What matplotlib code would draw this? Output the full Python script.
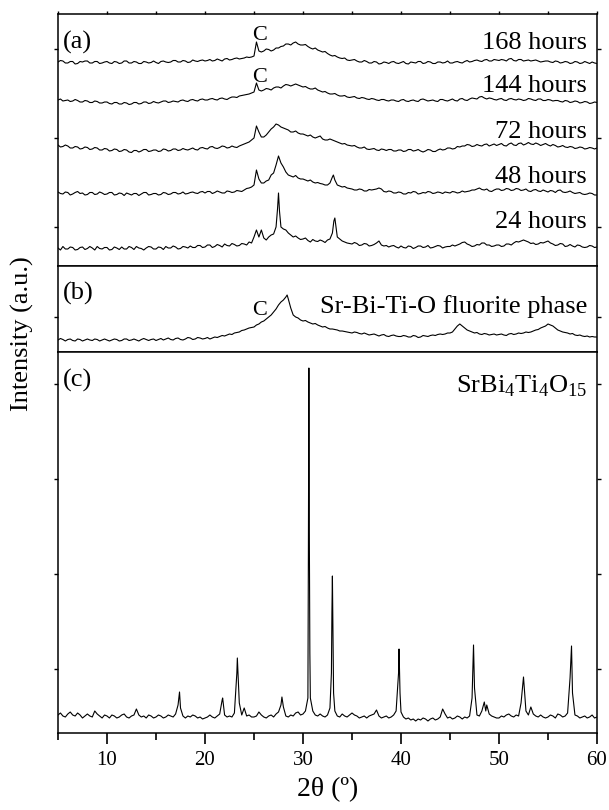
import numpy as np
import matplotlib.pyplot as plt

plt.rcParams['font.family'] = ['Liberation Serif', 'DejaVu Serif']
plt.rcParams['mathtext.fontset'] = 'custom'
plt.rcParams['mathtext.rm'] = 'Liberation Serif'

# 2theta grid every 0.25 deg, 5..60 (221 points), one row below = 5 deg
grid = np.arange(5.0, 60.001, 0.25)

# ---- panel (a): intensities above each pattern's own baseline ----
h24 = [1, -1, 2.5, 0, 0, 2, 1.5, -1, -0.5, 1.5, 2, -0.5, 0.5, 2.5, 1, -1, 2.5, 0.5, 0, 1.5,
       1.5, -1, -0.5, 2, 1, -0.5, 2, 0, 0, 2.5, 1.5, -0.5, 2.5, 1, 0.5, -1, 1, 2.5, 2, 0,
       0, 2, 1.5, -0.5, 2.5, 1, 1, 3, 2, 0, 0.5, 2.5, 2, 1, 3, 1.5, 1.5, 3.5, 3.5, 1.5,
       2, 4, 4, 1.5, 2.5, 4.5, 3.5, 2, 5, 3.5, 3, 5.5, 4.5, 3, 3.5, 5.5, 5, 4, 7, 6,
       12, 19, 12, 19, 11, 9, 12, 14, 15, 22, 56, 22, 20, 19, 16, 14, 12, 13, 11, 9.5,
       10, 11, 8.5, 7, 9.5, 8, 7.5, 9, 8, 6.5, 9, 10, 16, 31, 12, 10, 8, 7, 6, 5.5,
       5, 6.5, 5.5, 3.5, 4, 5.5, 5, 3, 3.5, 4.5, 6, 8, 4, 3, 3.5, 2, 3, 3.5, 2, 1,
       3, 1.5, 1, 3, 2.5, 0.5, 1.5, 3, 3, 1.5, 2, 3.5, 1, 1.5, 2.5, 3.5, 3, 1, 2, 2.5,
       2.5, 4, 3, 4, 5, 6.5, 7, 5, 4, 2.5, 3, 4.5, 4, 6, 6, 4, 4, 2.5, 3, 4,
       4, 2.5, 3, 5, 5, 4, 6, 7.5, 7, 8, 9, 8, 7, 5.5, 6, 4.5, 5, 6.5, 6, 7,
       8, 6, 5, 3.5, 4, 5.5, 5, 2.5, 3, 4.5, 3, 2, 4, 3.5, 2, 1.5, 2, 3.5, 3, 1.5,
       2]
h24_px = [27.4, 27.6, 33.15]
h24_py = [40, 38, 28]

h48 = [3, 1.5, 1, 3, 2.5, 0, 1, 2.5, 3.5, 1.5, 2, 0, 0.5, 2.5, 2.5, 0.5, 1, 3, 2, 0.5,
       1, 2.5, 2.5, 0, 0.5, 2, 1.5, -0.5, 2, 1, 0, 1.5, 1.5, -0.5, 1, 2.5, 2.5, 0, 0.5, 1.5,
       1.5, 0, 0.5, 2.5, 2, 0.5, 1, 2.5, 2.5, 1, 1.5, 3, 1, 1.5, 2.5, 3, 2, 1.5, 3, 3.5,
       2, 3.5, 3.5, 1.5, 2.5, 4, 3, 2, 2, 4, 3.5, 2.5, 3, 4.5, 4, 3.5, 5, 6.5, 7, 8,
       10, 25, 16, 12, 12, 14, 15, 20, 22, 30, 39, 32, 28, 23, 20, 19, 18, 19.5, 17, 16,
       16, 15, 14, 15, 13, 12, 12.5, 11.5, 11, 10, 10, 12, 18, 15, 10, 9, 8, 8.5, 7, 6.5,
       6, 5, 5, 6, 5.5, 4, 4, 5.5, 5, 5.5, 6, 7, 6, 3.5, 3, 4, 3.5, 2, 2, 3,
       2.5, 1, 1, 2.5, 2, 3.5, 3, 1, 1.5, 2.5, 2, 3.5, 3, 1.5, 2, 3, 2.5, 1.5, 3, 2.5,
       2, 3.5, 3, 2, 2.5, 4, 3, 3.5, 4, 5, 5, 6, 7, 5.5, 5, 6, 4, 3.5, 5, 6,
       6, 4.5, 5, 6.5, 6, 4.5, 5, 6.5, 6, 4.5, 5, 6, 4, 3.5, 5, 5.5, 4, 3.5, 5, 4,
       3, 4.5, 4, 2.5, 4.5, 5, 3, 2.5, 3, 4, 2.5, 1.5, 2, 2.5, 1, 0.5, 1, 2, 1.5, 0,
       0]
h48_px = [33.1]
h48_py = [20]

h72 = [7, 5, 5.5, 7, 6, 4, 4, 5.5, 5, 3, 3.5, 5, 4.5, 2.5, 3, 4.5, 4, 2, 2, 3.5,
       3, 1, 1.5, 3, 2.5, 0.5, 1, 2.5, 2, 0, -0.5, 1.5, 1.5, 0, 1, 2.5, 2.5, 0.5, 1, 2,
       2, 0.5, 1, 3, 2.5, 1, 1.5, 3, 3, 1.5, 2, 3.5, 2.5, 2, 3, 4, 2.5, 2, 4, 4.5,
       3.5, 3, 5, 5.5, 4, 3.5, 4.5, 6, 5.5, 4, 4.5, 6, 5, 4.5, 6, 7, 8, 9, 10, 12,
       14, 26, 20, 15, 15, 17, 20, 23, 25, 28, 27, 25, 24, 23, 22, 20, 20, 21, 19, 18,
       18, 17, 16, 17, 15, 14, 15, 16, 13, 12, 12, 13, 12, 11, 10, 9, 8, 8.5, 7, 6.5,
       6, 6.5, 5, 4, 4, 5, 3, 2.5, 3, 3.5, 2, 1.5, 3, 2.5, 1.5, 2.5, 2.5, 1, 1, 2,
       2, 0.5, 1, 2.5, 2.5, 1, 1.5, 2.5, 1, 0, 1, 2.5, 2, 0.5, 0.5, 2, 3, 2, 2.5, 4,
       4, 3, 3.5, 5.5, 5, 6, 6, 7.5, 7, 5.5, 6, 7.5, 6.5, 6, 7.5, 8, 6, 7, 8, 6.5,
       7.5, 8.5, 6.5, 6, 8, 9, 7, 6.5, 8.5, 9, 7, 8, 9.5, 8, 7.5, 9, 8, 6.5, 7.5, 8.5,
       7, 6, 7.5, 6.5, 5, 5.5, 6.5, 5, 4.5, 5.5, 5, 3.5, 4, 5, 4.5, 3, 3.5, 4.5, 4, 3,
       4]
h72_px = []
h72_py = []

h144 = [4, 5, 3, 3.5, 4, 2.5, 3, 4.5, 3.5, 2, 2, 3.5, 3, 1.5, 1.5, 3, 2.5, 1, 1, 2,
        2, 0.5, 0, 1.5, 1.5, 0, 0, 1.5, 1, -0.5, 0, 1.5, 1.5, 0, 0.5, 2, 2, 0.5, 1, 2.5,
        1.5, 1, 2, 3, 3, 1.5, 2, 3, 2.5, 2, 3.5, 4, 3, 2.5, 4, 4.5, 3.5, 3, 4.5, 5,
        4, 4, 5, 5.5, 4.5, 4, 5.5, 6, 5, 4.5, 6, 7, 7, 6.5, 8, 8.5, 9, 9.5, 10, 11,
        12, 21, 14, 13, 14, 15.5, 15, 14, 16, 17, 17, 16, 18, 19.5, 19, 18, 19, 20, 19, 18,
        17, 17.5, 16, 15, 15, 16, 14, 13, 12, 12.5, 11, 10, 10, 10.5, 9, 8, 8, 8.5, 7, 6.5,
        7, 7.5, 6, 5.5, 6.5, 6, 5, 4.5, 5.5, 5, 4, 3.5, 4.5, 4.5, 3.5, 3, 4, 4, 3, 2.5,
        4, 4.5, 3, 2.5, 3.5, 4, 3, 2.5, 4.5, 5, 4, 3, 3.5, 4, 3, 2.5, 4.5, 4.5, 3.5, 3,
        4, 5, 3.5, 3, 5, 5.5, 4, 3.5, 5, 6, 5.5, 5, 7, 7.5, 6, 5, 6, 5.5, 4.5, 4,
        5, 5.5, 4, 3.5, 5, 5.5, 4.5, 4, 5, 4.5, 3.5, 4, 5.5, 5, 4, 3.5, 5, 5, 3.5, 3.5,
        4.5, 4, 3, 3.5, 3.5, 2.5, 2, 3.5, 3, 1.5, 2, 3, 2.5, 1, 1.5, 2.5, 2, 0.5, 1, 2,
        1.5]
h144_px = []
h144_py = []

h168 = [1, 2.5, 2, 0, 0, 1.5, 1.5, -1, -0.5, 1.5, 1, 2, 2, 0, 0, 1.5, 1.5, -0.5, 0, 1,
        1.5, 0, -0.5, 1.5, 1, -0.5, 0, 2, 2, 0, 0, 1.5, 1, -0.5, -0.5, 1.5, 1, 0, 0.5, 2,
        0.5, -0.5, 1.5, 2, 1, 0.5, 1, 2.5, 2.5, 1, 1, 2.5, 2, 0.5, 1, 3, 2, 1.5, 2.5, 3,
        2, 2.5, 3.5, 2, 2.5, 4, 3, 2, 4, 4.5, 3, 3.5, 4.5, 5, 4, 4.5, 5, 6, 5.5, 6,
        7, 21, 12, 11, 12, 14, 13.5, 12, 13, 15, 15, 16.5, 17, 19, 19, 18, 20, 21, 19, 18,
        18, 18.5, 16.5, 15, 14, 15, 13, 12, 11, 11.5, 9.5, 8, 7, 7.5, 6, 5, 4.5, 5, 3, 2.5,
        3, 3.5, 2, 1, 1, 2.5, 1.5, 0, 0, 1.5, 1, -1, -0.5, 1, 0.5, -0.5, 1, 1.5, 0, -0.5,
        0.5, 1.5, -0.5, -1, 1, 0.5, 0, 1.5, 1.5, -0.5, 0, 1.5, 1, -0.5, -0.5, 1, 1, 0, 0.5, 2,
        0, 0, 1, 1.5, 0.5, 0, 1.5, 2.5, 1, 1.5, 2.5, 3, 2, 1.5, 3, 3.5, 2, 2, 3.5, 3,
        2.5, 3.5, 3, 2, 4, 4.5, 2.5, 2, 3.5, 3.5, 2, 2.5, 3, 2, 2.5, 3, 2, 1, 1.5, 2,
        2, 1, 0.5, 2, 1.5, 0, 0.5, 1.5, 1, -0.5, 0, 1.5, 1, -0.5, 0, 1.5, 0.5, -0.5, 1, 0,
        -0.5]
h168_px = []
h168_py = []

# ---- panel (b): fluorite phase ----
fluor = [12, 13.5, 12.5, 11, 12.5, 13, 11.5, 11, 13, 12.5, 11, 12, 13, 12, 11.5, 13, 12.5, 11, 12, 13,
         12, 11, 12, 13, 12.5, 11, 11.5, 13, 13, 11.5, 12, 13, 12, 11, 12.5, 13.5, 12.5, 11.5, 12.5, 13,
         11.5, 12.5, 13.5, 12, 13, 14, 12.5, 12, 13.5, 14, 12.5, 12, 13, 14.5, 14, 12.5, 13, 14.5, 14, 13,
         13.5, 14.5, 13, 14, 15, 14.5, 15.5, 16.5, 16, 17, 18, 17.5, 19, 19.5, 20, 21.5, 22, 23, 24, 24.5,
         25, 27, 28, 30, 31, 33, 35, 37, 40, 43, 47, 50, 52, 55, 53, 44, 37, 35, 34, 32,
         31, 31.5, 30, 29, 28, 28.5, 27, 26, 25, 25.5, 24, 23, 23, 22.5, 22, 21, 21, 20.5, 20, 19.5,
         19, 20, 19.5, 18.5, 18, 19, 18, 17, 17.5, 18, 17, 16, 17, 17.5, 16, 15.5, 16.5, 17, 16, 15.5,
         15.5, 16.5, 16, 15, 15, 16.5, 16, 14.5, 15, 16.5, 16, 15.5, 16.5, 17, 16.5, 17.5, 18, 17.5, 18, 19,
         19, 20, 23, 26, 28, 26, 24, 22, 21, 20, 19, 19.5, 18, 17.5, 18.5, 18, 17, 17.5, 18, 17,
         17.5, 18, 17, 16.5, 18, 18.5, 17.5, 18, 19, 18.5, 19, 20, 19.5, 20, 21, 22, 22.5, 24, 25, 26,
         28, 27, 26, 24, 22, 21, 20, 19.5, 19, 18, 18.5, 17, 16.5, 17, 16, 15.5, 16, 15, 15.5, 15,
         15]
fluor_px = [28.38]
fluor_py = [57]

# ---- panel (c): SrBi4Ti4O15 ----
sbt = [18, 20, 17, 16, 19, 21, 18, 17, 20, 18, 15, 17, 19, 17, 16, 22, 19, 17, 15, 18,
       17, 15, 18, 17, 15, 16, 18, 19, 16, 15, 17, 18, 24, 18, 16, 17, 15, 18, 17, 15,
       16, 18, 17, 15, 16, 18, 17, 16, 19, 28, 25, 17, 15, 17, 16, 18, 17, 15, 16, 14,
       15, 16, 18, 16, 15, 17, 19, 33, 18, 16, 17, 16, 20, 60, 30, 18, 25, 17, 18, 16,
       16, 17, 21, 18, 16, 15, 17, 18, 16, 19, 21, 28, 26, 17, 16, 18, 17, 20, 21, 18,
       19, 22, 35, 35, 22, 18, 17, 19, 17, 16, 18, 25, 157, 22, 17, 16, 19, 17, 16, 18,
       20, 18, 17, 15, 16, 17, 15, 17, 18, 19, 23, 17, 15, 16, 17, 15, 16, 18, 22, 60,
       21, 16, 14, 15, 13, 14, 12, 14, 13, 15, 14, 12, 14, 15, 13, 14, 16, 24, 19, 15,
       16, 14, 15, 17, 16, 14, 16, 15, 17, 35, 45, 18, 17, 22, 31, 28, 19, 17, 16, 15,
       15, 17, 16, 18, 19, 17, 16, 18, 17, 30, 56, 22, 18, 26, 19, 17, 16, 18, 16, 15,
       16, 18, 17, 15, 19, 18, 16, 17, 20, 55, 40, 18, 17, 15, 16, 17, 15, 16, 18, 15,
       16]
sbt_px = [17.4, 21.8, 23.3, 27.85, 30.55, 30.6, 30.65, 30.7, 32.9, 32.95, 33.05, 33.12,
          39.8, 39.9, 47.4, 48.65, 57.4]
sbt_py = [41, 35, 75, 36, 180, 365, 190, 80, 60, 120, 110, 40,
          84, 40, 88, 22, 87]

hours = ['24 hours', '48 hours', '72 hours', '144 hours', '168 hours']


def trace(vals, px, py):
    assert len(vals) == len(grid)
    x = np.concatenate([grid, px])
    y = np.concatenate([vals, py])
    i = np.argsort(x)
    return x[i], y[i]


fig = plt.figure(figsize=(6.09, 8.10), dpi=100)
L, W = 58 / 609, 539 / 609
ax_a = fig.add_axes([L, 1 - 266 / 810, W, 252 / 810])
ax_b = fig.add_axes([L, 1 - 352 / 810, W, 86 / 810])
ax_c = fig.add_axes([L, 1 - 733 / 810, W, 381 / 810])

lw = 0.8
offs = [17, 71, 114, 162, 203]
series = [(h24, h24_px, h24_py), (h48, h48_px, h48_py), (h72, h72_px, h72_py),
          (h144, h144_px, h144_py), (h168, h168_px, h168_py)]
lab_y = [38, 83, 128, 174, 217]
for (v, px, py), off, name, ly in zip(series, offs, hours, lab_y):
    x, y = trace(v, px, py)
    ax_a.plot(x, y + off, color='k', lw=lw)
    ax_a.text(58.98, ly, name, ha='right', va='baseline', fontsize=19)
ax_a.text(25.56, 226, 'C', ha='center', va='baseline', fontsize=16)
ax_a.text(25.56, 184, 'C', ha='center', va='baseline', fontsize=16)
ax_a.text(5.5, 217, '(a)', ha='left', va='baseline', fontsize=19)

x, y = trace(fluor, fluor_px, fluor_py)
ax_b.plot(x, y, color='k', lw=lw)
ax_b.text(5.5, 52, '(b)', ha='left', va='baseline', fontsize=19)
ax_b.text(25.6, 37, 'C', ha='center', va='baseline', fontsize=16)
ax_b.text(58.98, 39, 'Sr-Bi-Ti-O fluorite phase', ha='right', va='baseline', fontsize=19)

x, y = trace(sbt, sbt_px, sbt_py)
ax_c.plot(x, y, color='k', lw=lw)
ax_c.text(5.5, 346, '(c)', ha='left', va='baseline', fontsize=19)
ax_c.text(58.98, 340, r'SrBi$_{\rm 4}$Ti$_{\rm 4}$O$_{\rm 15}$', ha='right',
          va='baseline', fontsize=19)

ax_a.set_ylim(0, 252)
ax_b.set_ylim(0, 86)
ax_c.set_ylim(0, 381)
ax_a.set_yticks([39, 128, 217])
ax_b.set_yticks([35])
ax_c.set_yticks([64, 159, 254, 349])

for ax in (ax_a, ax_b, ax_c):
    ax.set_xlim(5, 60)
    ax.set_xticks(np.arange(10, 61, 10))
    ax.set_xticks(np.arange(5, 61, 10), minor=True)
    for s in ax.spines.values():
        s.set_linewidth(1.1)
    ax.tick_params(axis='y', which='both', direction='out', left=True, right=True,
                   labelleft=False, length=3, width=1)
    ax.tick_params(axis='x', which='both', bottom=False, top=False, labelbottom=False)

ax_a.tick_params(axis='x', which='both', top=True, direction='out', length=2.5, width=1)
ax_c.tick_params(axis='x', which='major', bottom=True, labelbottom=True, direction='out',
                 length=8, width=1.2, labelsize=15, pad=5)
ax_c.tick_params(axis='x', which='minor', bottom=True, direction='out', length=5, width=1.2)

fig.text(327.5 / 609, 1 - 790 / 810, '2θ (º)', ha='center', va='center', fontsize=20)
fig.text(22 / 609, 1 - 334 / 810, 'Intensity (a.u.)', rotation=90, ha='center',
         va='center', fontsize=19)

fig.savefig('out.png', dpi=100)
